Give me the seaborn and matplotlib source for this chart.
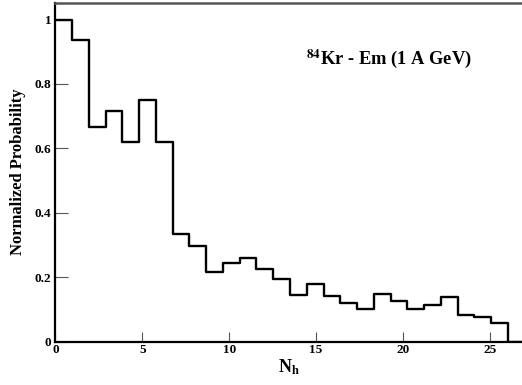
import numpy as np
import pandas as pd
import seaborn as sns
import matplotlib.pyplot as plt
from matplotlib.ticker import MultipleLocator

# normalized N_h distribution, 28 bins over 0..27
bin_edges = list(np.linspace(0, 27, 29))
prob = [1.000, 0.937, 0.668, 0.716, 0.619, 0.750, 0.619, 0.335, 0.297, 0.216,
        0.243, 0.260, 0.225, 0.195, 0.144, 0.179, 0.142, 0.121, 0.100, 0.148,
        0.125, 0.100, 0.114, 0.139, 0.083, 0.078, 0.057, 0.0]
x_ticks = [0, 5, 10, 15, 20, 25]
y_ticks = [0, 0.2, 0.4, 0.6, 0.8, 1]
y_ticklabels = ["0", "0.2", "0.4", "0.6", "0.8", "1"]

sns.set_style("white")
plt.rcParams['font.family'] = ['Liberation Serif', 'DejaVu Serif']
plt.rcParams['font.weight'] = 'bold'
plt.rcParams['mathtext.fontset'] = 'stix'
plt.rcParams['text.color'] = 'black'
plt.rcParams['axes.labelcolor'] = 'black'

centers = [(a + b) / 2 for a, b in zip(bin_edges[:-1], bin_edges[1:])]
df = pd.DataFrame({"nh": centers, "prob": prob})
fig = plt.figure(figsize=(5.22, 3.85), dpi=100)
ax = fig.add_axes([55.4 / 522, 1 - 341.7 / 385, (522 - 55.4) / 522, (341.7 - 2.5) / 385])

sns.histplot(data=df, x="nh", weights="prob", bins=bin_edges, element="step", fill=False,
             color="black", linewidth=1.7, ax=ax)

ax.set_xlim(0, 26.85)
ax.set_ylim(0, 1.053)
ax.set_xticks(x_ticks)
ax.set_xticklabels([str(t) for t in x_ticks])
ax.set_yticks(y_ticks)
ax.set_yticklabels(y_ticklabels)
ax.xaxis.set_minor_locator(MultipleLocator(1))
ax.yaxis.set_minor_locator(MultipleLocator(0.05))
ax.tick_params(axis="both", which="both", direction="in", labelsize=9.5, width=0.8,
               color="#555555", labelcolor="black")
ax.tick_params(axis="x", which="major", length=7.5, pad=2)
ax.tick_params(axis="x", which="minor", length=3.6)
ax.tick_params(axis="y", which="major", length=9.5, pad=3)
ax.tick_params(axis="y", which="minor", length=4.3)
ax.tick_params(bottom=True, left=True, top=False, right=False)
for lab in ax.get_xticklabels() + ax.get_yticklabels():
    lab.set_fontweight("bold")

for side in ["left", "bottom"]:
    ax.spines[side].set_color("black")
    ax.spines[side].set_linewidth(1.6)
ax.spines["top"].set_color("#555555")
ax.spines["top"].set_linewidth(1.8)
ax.spines["right"].set_visible(False)

ax.set_xlabel(r"N$_{\mathbf{h}}$", fontsize=13, fontweight="bold", labelpad=1)
ax.set_ylabel("Normalized Probability", fontsize=12, fontweight="bold", labelpad=6)
ax.text(14.4, 0.88, r"$^{\mathbf{84}}$Kr - Em (1 A GeV)", fontsize=13.3,
        fontweight="bold", va="center", ha="left")

plt.savefig("out.png", dpi=100)
